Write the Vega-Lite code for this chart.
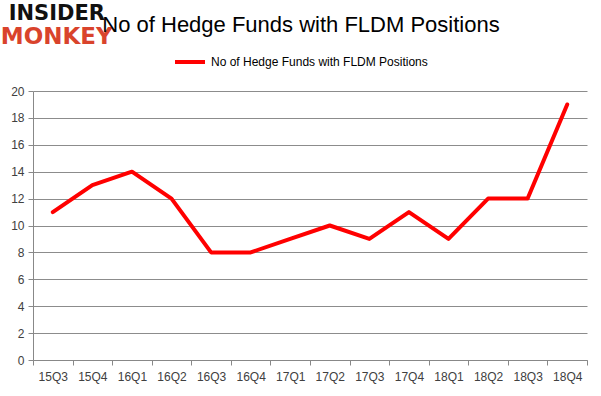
{
  "$schema": "https://vega.github.io/schema/vega-lite/v6.json",
  "autosize": "none",
  "width": 554,
  "height": 269,
  "padding": {"left": 33, "top": 91, "right": 14, "bottom": 36},
  "background": "white",
  "title": {
    "text": "No of Hedge Funds with FLDM Positions",
    "font": "Liberation Sans",
    "fontSize": 22,
    "fontWeight": "normal",
    "color": "#000000",
    "anchor": "middle",
    "offset": -34,
    "dx": -9
  },
  "config": {
    "view": {"stroke": null},
    "font": "Liberation Sans"
  },
  "data": {
    "values": [
      {"q": "15Q3", "v": 11},
      {"q": "15Q4", "v": 13},
      {"q": "16Q1", "v": 14},
      {"q": "16Q2", "v": 12},
      {"q": "16Q3", "v": 8},
      {"q": "16Q4", "v": 8},
      {"q": "17Q1", "v": 9},
      {"q": "17Q2", "v": 10},
      {"q": "17Q3", "v": 9},
      {"q": "17Q4", "v": 11},
      {"q": "18Q1", "v": 9},
      {"q": "18Q2", "v": 12},
      {"q": "18Q3", "v": 12},
      {"q": "18Q4", "v": 19}
    ]
  },
  "encoding": {
    "x": {
      "field": "q", "type": "ordinal", "sort": null,
      "scale": {"type": "band", "paddingInner": 0, "paddingOuter": 0},
      "axis": {
        "title": null, "labelAngle": 0, "tickBand": "extent",
        "domainColor": "#888888", "tickColor": "#888888", "tickSize": 5,
        "labelColor": "#404040", "labelFontSize": 12, "labelPadding": 6, "grid": false
      }
    },
    "y": {
      "field": "v", "type": "quantitative",
      "scale": {"domain": [0, 20]},
      "axis": {
        "title": null, "values": [0, 2, 4, 6, 8, 10, 12, 14, 16, 18, 20],
        "labelOverlap": false,
        "domainColor": "#888888", "tickColor": "#888888", "tickSize": 5,
        "gridColor": "#8c8c8c", "gridWidth": 1,
        "labelColor": "#404040", "labelFontSize": 12, "labelPadding": 4
      }
    }
  },
  "layer": [
    {
      "mark": {"type": "line", "strokeWidth": 4, "strokeJoin": "round", "strokeCap": "round"},
      "encoding": {
        "color": {
          "datum": "No of Hedge Funds with FLDM Positions",
          "type": "nominal",
          "scale": {"range": ["#ff0000"]},
          "legend": {
            "title": null, "orient": "none", "legendX": 140, "legendY": -46,
            "symbolType": "stroke", "symbolSize": 900, "symbolStrokeWidth": 4,
            "labelFontSize": 12, "labelColor": "#000000", "labelFont": "Liberation Sans",
            "labelLimit": 400
          }
        }
      }
    },
    {
      "data": {"values": [{"t": "INSIDER", "v": 25.7}]},
      "mark": {"type": "text", "font": "DejaVu Sans", "fontWeight": "bold", "fontSize": 21, "color": "#111111", "align": "center", "baseline": "middle", "clip": false, "dx": 4},
      "encoding": {
        "x": {"datum": "15Q3"},
        "text": {"field": "t"}
      }
    },
    {
      "data": {"values": [{"t": "MONKEY", "v": 24.0}]},
      "mark": {"type": "text", "font": "DejaVu Sans", "fontWeight": "bold", "fontSize": 23, "color": "#d9432c", "align": "center", "baseline": "middle", "clip": false, "dx": 4},
      "encoding": {
        "x": {"datum": "15Q3"},
        "text": {"field": "t"}
      }
    }
  ]
}
